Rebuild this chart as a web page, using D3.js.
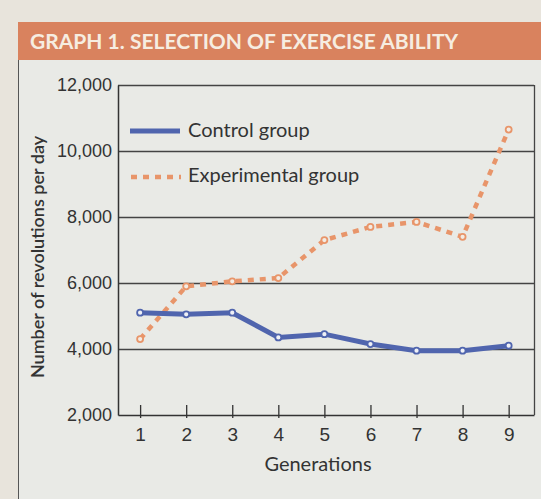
<!DOCTYPE html>
<html>
<head>
<meta charset="utf-8">
<script src="https://cdn.jsdelivr.net/npm/d3@7"></script>
<style>
  body { margin: 0; background: #e7e3db; }
  svg { display: block; font-family: Lato, "Open Sans", sans-serif; }
</style>
</head>
<body>
<div id="chart"></div>
<script>
var generations = [1, 2, 3, 4, 5, 6, 7, 8, 9];
var control = [5100, 5050, 5100, 4350, 4450, 4150, 3950, 3950, 4100];
var experimental = [4300, 5900, 6050, 6150, 7300, 7700, 7850, 7400, 10650];
var yTicks = [2000, 4000, 6000, 8000, 10000, 12000];
var seriesNames = ["Control group", "Experimental group"];

var W = 541, H = 499;
var margin = {top: 85, right: 7, bottom: 84, left: 118};

var svg = d3.select("#chart").append("svg")
    .attr("width", W)
    .attr("height", H);

// page + panel
svg.append("rect").attr("x", 0).attr("y", 0).attr("width", W).attr("height", H).attr("fill", "#e8e4dc");
svg.append("rect").attr("x", 18).attr("y", 58).attr("width", W - 18).attr("height", H - 58)
    .attr("fill", "#e9eae6");
svg.append("line").attr("x1", 18.5).attr("x2", 18.5).attr("y1", 58).attr("y2", H)
    .attr("stroke", "#555").attr("stroke-width", 1);

// title banner
svg.append("rect").attr("x", 18).attr("y", 22).attr("width", W - 18).attr("height", 38)
    .attr("fill", "#d9825e");
svg.append("text")
    .attr("x", 30).attr("y", 49)
    .attr("fill", "#f6ede1")
    .style("font-size", "21px")
    .style("font-weight", "bold")
    .text("GRAPH 1. SELECTION OF EXERCISE ABILITY");

var x = d3.scaleLinear()
    .domain([0.52, 9.55])
    .range([margin.left, W - margin.right]);

var y = d3.scaleLinear()
    .domain([2000, 12000])
    .range([H - margin.bottom, margin.top]);

// gridlines
svg.append("g")
    .selectAll("line")
    .data(yTicks.slice(1))
    .enter().append("line")
    .attr("x1", margin.left).attr("x2", W - margin.right)
    .attr("y1", function(d) { return y(d) + 0.5; })
    .attr("y2", function(d) { return y(d) + 0.5; })
    .attr("stroke", "#444").attr("stroke-width", 1.3);

// right border
svg.append("line")
    .attr("x1", W - margin.right + 0.5).attr("x2", W - margin.right + 0.5)
    .attr("y1", y(12000)).attr("y2", y(2000))
    .attr("stroke", "#444").attr("stroke-width", 1.3);

var yAxis = d3.axisLeft(y)
    .tickValues(yTicks)
    .tickSize(0)
    .tickPadding(6)
    .tickFormat(d3.format(","));

var gy = svg.append("g")
    .attr("transform", "translate(" + margin.left + ",0)")
    .call(yAxis);
gy.select(".domain").attr("stroke", "#333").attr("stroke-width", 1.5);
gy.selectAll("text").attr("fill", "#333").style("font-size", "18px");

var xAxis = d3.axisBottom(x)
    .tickValues(generations)
    .tickSizeInner(3)
    .tickSizeOuter(0)
    .tickPadding(10)
    .tickFormat(d3.format("d"));

var gx = svg.append("g")
    .attr("transform", "translate(0," + y(2000) + ")")
    .call(xAxis);
gx.select(".domain").attr("stroke", "#333").attr("stroke-width", 1.5);
gx.selectAll(".tick line").attr("y1", -10).attr("stroke", "#333").attr("stroke-width", 1.3);
gx.selectAll("text").attr("fill", "#333").style("font-size", "19px");

svg.append("text")
    .attr("x", (margin.left + W - margin.right) / 2 - 8)
    .attr("y", 471)
    .attr("text-anchor", "middle")
    .attr("fill", "#333")
    .style("font-size", "20px")
    .text("Generations");

svg.append("text")
    .attr("transform", "translate(44," + ((y(2000) + y(12000)) / 2 + 7) + ") rotate(-90)")
    .attr("text-anchor", "middle")
    .attr("fill", "#333")
    .style("font-size", "18px")
    .style("font-weight", "600")
    .text("Number of revolutions per day");

var line = d3.line()
    .x(function(d, i) { return x(generations[i]); })
    .y(function(d) { return y(d); });

var blue = "#5065ae", orange = "#e8956a";

svg.append("path")
    .attr("d", line(experimental))
    .attr("fill", "none")
    .attr("stroke", orange)
    .attr("stroke-width", 4.5)
    .attr("stroke-dasharray", "6 6");

svg.append("path")
    .attr("d", line(control))
    .attr("fill", "none")
    .attr("stroke", blue)
    .attr("stroke-width", 5);

svg.append("g").selectAll("circle")
    .data(experimental)
    .enter().append("circle")
    .attr("cx", function(d, i) { return x(generations[i]); })
    .attr("cy", function(d) { return y(d); })
    .attr("r", 3)
    .attr("fill", "#f3ece4")
    .attr("stroke", orange)
    .attr("stroke-width", 1.8);

svg.append("g").selectAll("circle")
    .data(control)
    .enter().append("circle")
    .attr("cx", function(d, i) { return x(generations[i]); })
    .attr("cy", function(d) { return y(d); })
    .attr("r", 3)
    .attr("fill", "#eef0f6")
    .attr("stroke", blue)
    .attr("stroke-width", 1.8);

// legend
var legend = svg.append("g");
legend.append("line")
    .attr("x1", 130).attr("x2", 180).attr("y1", 131).attr("y2", 131)
    .attr("stroke", blue).attr("stroke-width", 5);
legend.append("line")
    .attr("x1", 131).attr("x2", 181).attr("y1", 177).attr("y2", 177)
    .attr("stroke", orange).attr("stroke-width", 4.5)
    .attr("stroke-dasharray", "6 6");
legend.selectAll("text")
    .data(seriesNames)
    .enter().append("text")
    .attr("x", 188)
    .attr("y", function(d, i) { return 137 + i * 45; })
    .attr("fill", "#333")
    .style("font-size", "20px")
    .text(function(d) { return d; });
</script>
</body>
</html>
